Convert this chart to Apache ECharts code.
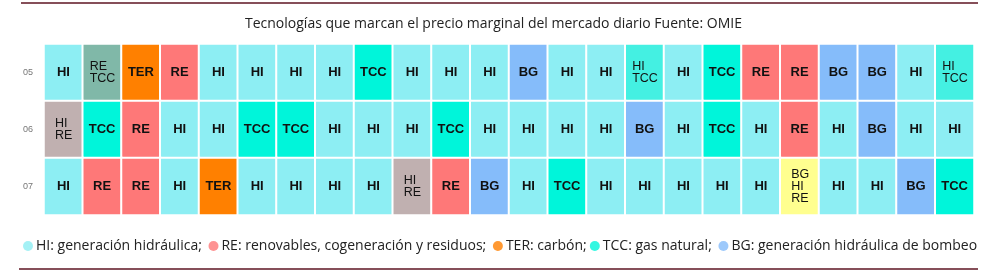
<!DOCTYPE html>
<html>
<head>
<meta charset="utf-8">
<script src="https://cdn.jsdelivr.net/npm/echarts@6/dist/echarts.min.js"></script>
<style>
  html, body { margin: 0; padding: 0; background: #fff; }
  #chart { width: 1000px; height: 276px; }
</style>
</head>
<body>
<div id="chart"></div>
<script>
// hours of the day (columns) and days (rows)
const hours = ["1","2","3","4","5","6","7","8","9","10","11","12","13","14","15","16","17","18","19","20","21","22","23","24"];
const days = ["05", "06", "07"];

// marginal technology per hour, one list per day
const row05 = ["HI","RE TCC","TER","RE","HI","HI","HI","HI","TCC","HI","HI","HI","BG","HI","HI","HI TCC","HI","TCC","RE","RE","BG","BG","HI","HI TCC"];
const row06 = ["HI RE","TCC","RE","HI","HI","TCC","TCC","HI","HI","HI","TCC","HI","HI","HI","HI","BG","HI","TCC","HI","RE","HI","BG","HI","HI"];
const row07 = ["HI","RE","RE","HI","TER","HI","HI","HI","HI","HI RE","RE","BG","HI","TCC","HI","HI","HI","HI","HI","BG HI RE","HI","HI","BG","TCC"];

const techCodes = ["HI", "RE", "TER", "TCC", "BG"];
const techNames = [
  "HI: generación hidráulica; ",
  "RE: renovables, cogeneración y residuos; ",
  "TER: carbón;",
  "TCC: gas natural; ",
  "BG: generación hidráulica de bombeo"
];

const colors = {
  "HI": "#8deef3",
  "RE": "#fe7878",
  "TER": "#ff8000",
  "TCC": "#00f5da",
  "BG": "#85bcfa",
  "RE TCC": "#80b8a8",
  "HI RE": "#c0b0b0",
  "HI TCC": "#44f0e2",
  "BG HI RE": "#ffff8f"
};

const cells = [];
[row05, row06, row07].forEach((row, yi) => {
  row.forEach((code, xi) => {
    cells.push({ value: [xi, yi, 1], name: code, itemStyle: { color: colors[code] } });
  });
});

const chart = echarts.init(document.getElementById("chart"));

const legendSeries = techCodes.map((code, i) => ({
  name: techNames[i],
  type: "scatter",
  data: [],
  itemStyle: { color: colors[code] }
}));

const option = {
  animation: false,
  title: {
    text: "Tecnologías que marcan el precio marginal del mercado diario Fuente: OMIE",
    left: 240,
    top: 12,
    textStyle: { fontFamily: "Open Sans", fontSize: 14, fontWeight: "normal", color: "#222" }
  },
  legend: {
    data: techNames,
    left: 18,
    top: 234,
    icon: "circle",
    itemWidth: 10,
    itemHeight: 10,
    itemGap: 3,
    textStyle: { fontFamily: "Open Sans", fontSize: 14, color: "#222", padding: [0, 0, 0, -2] }
  },
  grid: {
    left: 44, right: 26, top: 44, bottom: 61,
    show: true, borderColor: "#dcdcdc", borderWidth: 1, backgroundColor: "transparent"
  },
  xAxis: {
    type: "category",
    data: hours,
    axisLine: { show: false },
    axisTick: { show: false },
    axisLabel: { show: false },
    splitArea: { show: false }
  },
  yAxis: {
    type: "category",
    data: days,
    inverse: true,
    axisLine: { show: false },
    axisTick: { show: false },
    axisLabel: { color: "#777", fontSize: 9, fontFamily: "Liberation Sans", margin: 11 }
  },
  series: [
    {
      type: "heatmap",
      data: cells,
      itemStyle: { borderColor: "#fff", borderWidth: 2 },
      label: {
        show: true,
        formatter: p => {
          const parts = p.name.split(" ");
          if (parts.length === 1) return "{b|" + p.name + "}";
          const w = parts.some(s => s.length > 2) ? "w3" : "w2";
          return "{" + w + "|" + parts.join("\n") + "}";
        },
        rich: {
          b: { fontFamily: "Liberation Sans", fontSize: 13, fontWeight: "bold", color: "#111" },
          w3: { fontFamily: "Liberation Sans", fontSize: 12.5, lineHeight: 12, color: "#111", width: 25, align: "left" },
          w2: { fontFamily: "Liberation Sans", fontSize: 12.5, lineHeight: 12, color: "#111", width: 17, align: "left" }
        }
      },
      emphasis: { disabled: true }
    },
    ...legendSeries
  ],
  graphic: [
    { type: "line", shape: { x1: 21, y1: 3, x2: 978, y2: 3 }, style: { stroke: "#5e1522", lineWidth: 1.5 } },
    { type: "line", shape: { x1: 19, y1: 269, x2: 978, y2: 269 }, style: { stroke: "#5e1522", lineWidth: 1.5 } }
  ]
};

chart.setOption(option);
</script>
</body>
</html>
